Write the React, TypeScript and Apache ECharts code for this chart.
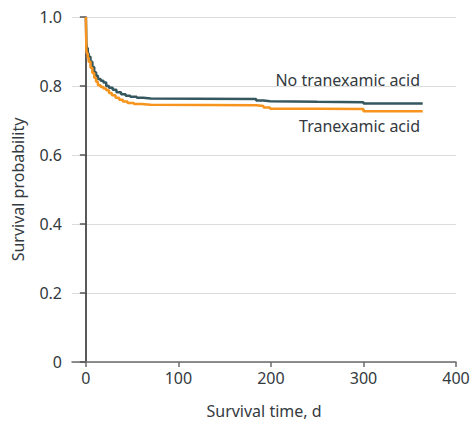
import React, { useEffect, useRef } from "react";
import * as echarts from "echarts";

const xTicks = [0, 100, 200, 300, 400];

// Kaplan-Meier step points: [day, survival probability after event]
const noTxaDays = [0, 0.5, 1, 2, 3, 5, 7, 9, 11, 13, 16, 19, 22, 25, 29, 33, 38, 43, 48, 55, 62, 70, 120, 184, 192, 199, 250, 300, 364];
const noTxaSurv = [1.0, 0.925, 0.91, 0.895, 0.885, 0.87, 0.855, 0.84, 0.83, 0.82, 0.815, 0.81, 0.8, 0.795, 0.789, 0.782, 0.776, 0.772, 0.769, 0.766, 0.764, 0.763, 0.762, 0.758, 0.756, 0.754, 0.753, 0.749, 0.749];

const txaDays = [0, 0.5, 1, 2, 3, 5, 7, 9, 11, 13, 16, 19, 22, 25, 28, 32, 36, 40, 45, 52, 60, 70, 130, 184, 192, 199, 250, 300, 364];
const txaSurv = [1.0, 0.905, 0.895, 0.882, 0.87, 0.853, 0.838, 0.824, 0.812, 0.802, 0.797, 0.793, 0.788, 0.78, 0.773, 0.766, 0.76, 0.755, 0.751, 0.748, 0.746, 0.745, 0.744, 0.742, 0.738, 0.734, 0.733, 0.727, 0.726];

const seriesNames = ["No tranexamic acid", "Tranexamic acid"];
const colors = ["#35575f", "#f7941d"];

const FONT = "Noto Sans";
const TEXT = "#333a40";

export default function App() {
  const ref = useRef<HTMLDivElement>(null);
  useEffect(() => {
    if (!ref.current) return;
    const chart = echarts.init(ref.current, null, { renderer: "svg" });
    const zip = (a: number[], b: number[]) => a.map((v, i) => [v, b[i]]);
    chart.setOption({
      animation: false,
      textStyle: { fontFamily: FONT },
      grid: { left: 72, right: 17, top: 17, bottom: 61, containLabel: false },
      xAxis: {
        type: "value",
        min: -15,
        max: 400,
        name: "Survival time, d",
        nameLocation: "middle",
        nameGap: 41,
        nameTextStyle: { fontFamily: FONT, fontSize: 16, color: TEXT },
        axisLine: { show: true, lineStyle: { color: "#6b6b6b", width: 1.5 } },
        axisTick: { show: true, length: 5, customValues: xTicks, lineStyle: { color: "#6b6b6b", width: 1.5 } },
        axisLabel: { customValues: xTicks, fontFamily: FONT, fontSize: 16, color: TEXT, margin: 8 },
        splitLine: { show: false },
      },
      yAxis: {
        type: "value",
        min: 0,
        max: 1,
        interval: 0.2,
        name: "Survival probability",
        nameLocation: "middle",
        nameGap: 46,
        nameTextStyle: { fontFamily: FONT, fontSize: 16, color: TEXT },
        axisLine: { show: true, lineStyle: { color: "#222", width: 1.5 } },
        axisTick: { show: true, length: 6, lineStyle: { color: "#555", width: 1.5 } },
        axisLabel: {
          fontFamily: FONT,
          fontSize: 16,
          color: TEXT,
          margin: 10,
          formatter: (v: number) => (v === 0 ? "0" : v.toFixed(1)),
        },
        splitLine: { show: true, lineStyle: { color: "#dcdcdc", width: 1 } },
      },
      series: [
        {
          name: seriesNames[0],
          type: "line",
          step: "end",
          showSymbol: false,
          data: zip(noTxaDays, noTxaSurv),
          lineStyle: { color: colors[0], width: 2.5 },
          itemStyle: { color: colors[0] },
          z: 2,
        },
        {
          name: seriesNames[1],
          type: "line",
          step: "end",
          showSymbol: false,
          data: zip(txaDays, txaSurv),
          lineStyle: { color: colors[1], width: 2.5 },
          itemStyle: { color: colors[1] },
          z: 3,
        },
      ],
      graphic: [
        {
          type: "text",
          right: 53,
          top: 72,
          style: { text: seriesNames[0], font: `16px "${FONT}"`, fill: TEXT },
        },
        {
          type: "text",
          right: 53,
          top: 118,
          style: { text: seriesNames[1], font: `16px "${FONT}"`, fill: TEXT },
        },
      ],
    });
    return () => chart.dispose();
  }, []);
  return (
    <div
      ref={ref}
      style={{ position: "absolute", left: 0, top: 0, width: 473, height: 424 }}
    />
  );
}
